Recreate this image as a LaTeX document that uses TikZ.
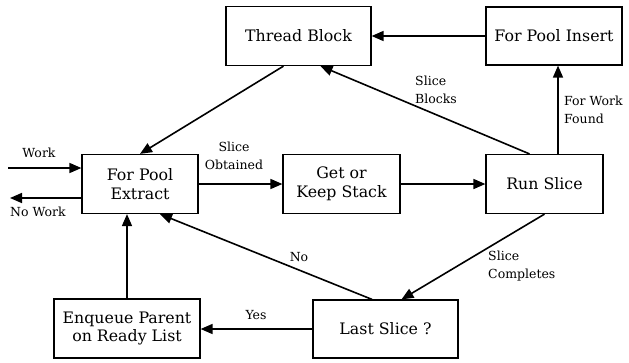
\documentclass[tikz,border=0pt]{standalone}
\usepackage{fontspec}
\setmainfont{DejaVu Serif}
\usetikzlibrary{arrows.meta}

\begin{document}
\begin{tikzpicture}[>={Triangle[length=12pt,width=10pt]}, x=1pt, y=-1pt,
  box/.style={draw, line width=1.2pt, inner sep=0pt, align=center,
    font=\fontsize{15.8}{18.5}\selectfont},
  lab/.style={inner sep=0pt, align=left, font=\fontsize{12.5}{17.5}\selectfont},
  flow/.style={->, line width=1.6pt}]
  \useasboundingbox (0,0) rectangle (629,362);
  % Boxes
  \node[box, minimum width=145pt, minimum height=59pt] (tb) at (298.5,36) {Thread Block};
  \node[box, minimum width=136pt, minimum height=58pt] (fpi) at (554,36) {For Pool Insert};
  \node[box, minimum width=116pt, minimum height=59pt] (ext) at (140,184) {For Pool\\Extract};
  \node[box, minimum width=117pt, minimum height=59pt] (gks) at (341.5,184) {Get or\\Keep Stack};
  \node[box, minimum width=117pt, minimum height=59pt] (rs) at (544.5,184) {Run Slice};
  \node[box, minimum width=146pt, minimum height=59pt] (enq) at (127,328.5) {Enqueue Parent\\on Ready List};
  \node[box, minimum width=145pt, minimum height=58pt] (ls) at (385.5,329) {Last Slice ?};
  % Free ends
  \coordinate (win) at (8,168);
  \coordinate (wout) at (10,198);
  % Connectors
  \draw[flow] (win) -- ([yshift=16pt]ext.west);
  \draw[flow] ([yshift=-14pt]ext.west) -- (wout);
  \draw[flow] ([xshift=-15pt]tb.south) -- (ext.north);
  \draw[flow] (fpi.west) -- (tb.east);
  \draw[flow] ([xshift=13.5pt]rs.north) -- ([xshift=13.5pt]rs.north |- fpi.south);
  \draw[flow] ([xshift=-15pt]rs.north) -- ([xshift=22pt]tb.south);
  \draw[flow] (ext.east) -- (gks.west);
  \draw[flow] (gks.east) -- (rs.west);
  \draw[flow] (rs.south) -- ([xshift=16pt]ls.north);
  \draw[flow] ([xshift=-13.5pt]ls.north) -- ([xshift=20pt]ext.south);
  \draw[flow] (ls.west) -- (ls.west -| enq.east);
  \draw[flow] (enq.north) -- (enq.north |- ext.south);
  % Labels
  \node[lab] (lwork) at (39,153) {Work};
  \node[lab] (lnowork) at (38,212) {No Work};
  \node[lab, align=center] (lobt) at (234,156) {Slice\\Obtained};
  \node[lab, anchor=west] (lblk) at (415,90) {Slice\\Blocks};
  \node[lab, anchor=west] (lfound) at (564,110) {For Work\\Found};
  \node[lab, anchor=west] (lcompl) at (488,266) {Slice\\Completes};
  \node[lab] (lno) at (299,257) {No};
  \node[lab] (lyes) at (256,315) {Yes};
\end{tikzpicture}
\end{document}
